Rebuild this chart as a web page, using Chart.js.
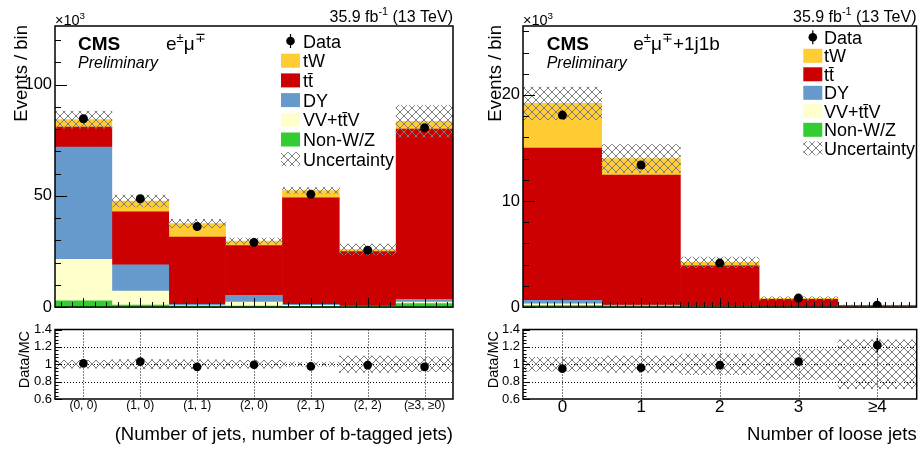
<!DOCTYPE html>
<html><head><meta charset="utf-8">
<script src="https://cdn.jsdelivr.net/npm/chart.js@4.4.1/dist/chart.umd.min.js"></script>
<style>
html,body{margin:0;padding:0;background:#fff;}
#wrap{position:relative;width:921px;height:450px;overflow:hidden;background:#fff;}
canvas{position:absolute;}
</style></head><body>
<div id="wrap">
<canvas id="lm" width="460" height="320" style="left:0;top:0;width:460px;height:320px"></canvas>
<canvas id="lr" width="460" height="130" style="left:0;top:320px;width:460px;height:130px"></canvas>
<canvas id="rm" width="461" height="320" style="left:460px;top:0;width:461px;height:320px"></canvas>
<canvas id="rr" width="461" height="130" style="left:460px;top:320px;width:461px;height:130px"></canvas>
</div>
<script>
// ---------- data (events in units of 10^3) ----------
// Left panel: e±μ∓, (number of jets, number of b-tagged jets)
const binsA     = ['(0, 0)','(1, 0)','(1, 1)','(2, 0)','(2, 1)','(2, 2)','(≥3, ≥0)'];
const nonwzA    = [2.8, 0.9, 0.5, 0.5, 0.4, 0.2, 1.6];
const vvA       = [18.7, 6.3, 0.2, 1.8, 0.4, 0.1, 0.7];
const dyA       = [50.5, 11.8, 0.5, 3.0, 0.4, 0.2, 1.2];
const ttA       = [9.0, 23.8, 30.3, 22.4, 47.9, 24.5, 76.5];
const twA       = [3.3, 4.9, 6.1, 2.0, 3.3, 0.9, 3.5];
const dataA     = [84.7, 48.7, 36.2, 29.1, 50.7, 25.6, 80.6];
const uncA      = [0.045, 0.055, 0.05, 0.045, 0.025, 0.095, 0.085];
const ratioA    = [1.01, 1.03, 0.97, 0.995, 0.975, 0.99, 0.97];
const ratioErrA = [0.004, 0.005, 0.006, 0.006, 0.005, 0.007, 0.004];
const yTicksA   = [0, 50, 100];

// Right panel: e±μ∓+1j1b, number of loose jets
const binsB     = ['0','1','2','3','≥4'];
const nonwzB    = [0.15, 0.05, 0.02, 0.005, 0.001];
const vvB       = [0.15, 0.05, 0.02, 0.005, 0.001];
const dyB       = [0.35, 0.10, 0.04, 0.01, 0.002];
const ttB       = [14.35, 12.25, 3.82, 0.72, 0.128];
const twB       = [4.2, 1.55, 0.32, 0.08, 0.015];
const dataB     = [18.1, 13.4, 4.15, 0.85, 0.18];
const uncB      = [0.08, 0.095, 0.12, 0.175, 0.28];
const ratioB    = [0.95, 0.96, 0.99, 1.03, 1.22];
const ratioErrB = [0.006, 0.008, 0.015, 0.035, 0.085];
const yTicksB   = [0, 10, 20];

const ratioTicks      = [0.6, 0.8, 1, 1.2, 1.4];
const ratioTickLabels = ['0.6', '0.8', '1', '1.2', '1.4'];
const legendLabels = ['Data', 'tW', 't\u0074\u0304', 'DY', 'VV+t\u0074\u0304V', 'Non-W/Z', 'Uncertainty'];

// ---------- style ----------
const SANS = "'Liberation Sans', Arial, Helvetica, sans-serif";
const COL = {tw:'#ffcc33', tt:'#cc0000', dy:'#6699cc', vv:'#ffffcc', nonwz:'#33cc33'};
const legendColors = [null, COL.tw, COL.tt, COL.dy, COL.vv, COL.nonwz, null];

function makeHatch(ctx){
  const c = document.createElement('canvas'); c.width = 8; c.height = 8;
  const g = c.getContext('2d');
  g.strokeStyle = '#7c7c7c'; g.lineWidth = 1;
  g.beginPath(); g.moveTo(-1,-1); g.lineTo(9,9); g.moveTo(9,-1); g.lineTo(-1,9); g.stroke();
  return ctx.createPattern(c, 'repeat');
}

function rich(ctx, parts, x, y, size, align, style){
  style = style || '';
  let w = 0;
  const m = parts.map(([t, sup]) => {
    const s = sup ? size*0.68 : size;
    ctx.font = style + s + 'px ' + SANS;
    const wd = ctx.measureText(t).width; w += wd;
    return {t, sup, s, wd};
  });
  let cx = align === 'right' ? x - w : x;
  ctx.textAlign = 'left';
  m.forEach(p => { ctx.font = style + p.s + 'px ' + SANS; ctx.fillText(p.t, cx, p.sup ? y - size*0.42 : y); cx += p.wd; });
}

function buildMain(id, P){
  const cv = document.getElementById(id);
  const ctx = cv.getContext('2d');
  const hatch = makeHatch(ctx);
  const total = P.comps[0].data.map((_, i) => P.comps.reduce((s, c) => s + c.data[i], 0));
  const uncBars = total.map((t, i) => [t*(1 - P.unc[i]), t*(1 + P.unc[i])]);
  const datasets = P.comps.map(c => ({type:'bar', label:c.label, data:c.data, backgroundColor:c.color,
    borderWidth:0, barPercentage:1, categoryPercentage:1, grouped:false, order:2}));
  datasets.push({type:'bar', label:'Uncertainty', data:uncBars, backgroundColor:hatch, borderWidth:0,
    barPercentage:1, categoryPercentage:1, grouped:false, xAxisID:'xu', yAxisID:'yu', order:1});
  datasets.push({type:'line', label:'Data', data:P.data, xAxisID:'xu', yAxisID:'yu', showLine:false,
    pointRadius:4.5, pointHoverRadius:4.5, pointBackgroundColor:'#000', pointBorderWidth:0, order:0});

  const deco = {
    id:'decoMain',
    afterDatasetsDraw(chart){
      const {ctx, chartArea:a, scales:{x, y}} = chart;
      ctx.save();
      ctx.strokeStyle = '#000'; ctx.lineWidth = 1;
      ctx.beginPath();
      const nMinY = Math.floor(P.yMax / P.yMinor + 1e-9);
      for (let j = 0; j <= nMinY; j++){
        const v = j * P.yMinor;
        const maj = Math.abs(v / P.yMajor - Math.round(v / P.yMajor)) < 1e-6;
        const py = Math.round(y.getPixelForValue(v)) + 0.5;
        ctx.moveTo(a.left, py); ctx.lineTo(a.left + (maj ? 12 : 6), py);
      }
      const n = P.labels.length;
      for (let i = 0; i < n; i++){
        for (let k = -P.xMinorN; k <= P.xMinorN; k++){
          const v = i + k * P.xMinor;
          if (v <= -0.5 + 1e-6 || v >= n - 0.5 - 1e-6) continue;
          const px = Math.round(x.getPixelForValue(v)) + 0.5;
          ctx.moveTo(px, a.bottom); ctx.lineTo(px, a.bottom - (k === 0 ? 9 : 5));
        }
      }
      ctx.stroke();
      ctx.lineWidth = 1.5;
      ctx.strokeRect(a.left, a.top, a.right - a.left, a.bottom - a.top);
      ctx.restore();
    },
    afterDraw(chart){
      const {ctx, chartArea:a} = chart;
      ctx.save();
      ctx.fillStyle = '#000'; ctx.textBaseline = 'alphabetic';
      rich(ctx, [['×10'], ['3', 1]], a.left, 25, 14.5, 'left');
      rich(ctx, [['35.9 fb'], ['-1', 1], [' (13 TeV)']], a.right, 22, 16, 'right');
      ctx.textAlign = 'left';
      ctx.font = 'bold 19px ' + SANS; ctx.fillText('CMS', P.cmsX, 50);
      ctx.font = 'italic 16px ' + SANS; ctx.fillText('Preliminary', P.cmsX, 68);
      rich(ctx, P.chan, P.chanX, 50, 19, 'left');
      // y title
      ctx.save(); ctx.translate(P.ytX, a.top - 1); ctx.rotate(-Math.PI/2);
      ctx.textAlign = 'right'; ctx.font = '18.5px ' + SANS; ctx.fillText('Events / bin', 0, 0);
      ctx.restore();
      // legend
      const L = P.legend;
      legendLabels.forEach((lab, i) => {
        const cy = L.y0 + i * L.step;
        if (i === 0){
          ctx.beginPath(); ctx.arc(L.boxX + 9.5, cy, 4.3, 0, Math.PI*2); ctx.fill();
          ctx.beginPath(); ctx.lineWidth = 1.2; ctx.strokeStyle = '#000';
          ctx.moveTo(L.boxX + 9.5, cy - 7); ctx.lineTo(L.boxX + 9.5, cy + 7); ctx.stroke();
        } else if (legendColors[i] === null){
          ctx.fillStyle = hatch; ctx.fillRect(L.boxX, cy - 7, 19, 14); ctx.fillStyle = '#000';
        } else {
          ctx.fillStyle = legendColors[i]; ctx.fillRect(L.boxX, cy - 7, 19, 14); ctx.fillStyle = '#000';
        }
        ctx.textAlign = 'left'; ctx.font = '18px ' + SANS;
        ctx.fillText(lab, L.textX, cy + 6.5);
      });
      ctx.restore();
    }
  };

  return new Chart(ctx, {
    type:'bar',
    data:{labels:P.labels, datasets},
    options:{
      responsive:false, animation:false, events:[], devicePixelRatio:1,
      layout:{padding:{left:0, right:P.padRight, top:26, bottom:8}},
      plugins:{legend:{display:false}, tooltip:{enabled:false}},
      scales:{
        x:{type:'category', stacked:true, offset:true, display:false},
        xu:{type:'category', offset:true, display:false},
        y:{type:'linear', stacked:true, min:0, max:P.yMax,
           afterFit:s => { s.width = P.axisW; },
           afterBuildTicks:s => { s.ticks = P.yTicks.map(v => ({value:v})); },
           grid:{display:false, drawTicks:false}, border:{display:false},
           ticks:{font:{family:SANS, size:16.5}, color:'#000', padding:3, autoSkip:false, callback:(v) => String(v)}},
        yu:{type:'linear', min:0, max:P.yMax, display:false}
      }
    },
    plugins:[deco]
  });
}

function buildRatio(id, P){
  const cv = document.getElementById(id);
  const ctx = cv.getContext('2d');
  const hatch = makeHatch(ctx);
  const deco = {
    id:'decoRatio',
    beforeDatasetsDraw(chart){
      const {ctx, chartArea:a, scales:{x, y}} = chart;
      ctx.save(); ctx.strokeStyle = '#000'; ctx.lineWidth = 1; ctx.setLineDash([1, 2]);
      ctx.beginPath();
      [0.8, 1, 1.2].forEach(v => { const py = Math.round(y.getPixelForValue(v)) + 0.5; ctx.moveTo(a.left, py); ctx.lineTo(a.right, py); });
      P.labels.forEach((_, i) => { const px = Math.round(x.getPixelForValue(i)) + 0.5; ctx.moveTo(px, a.top); ctx.lineTo(px, a.bottom); });
      ctx.stroke(); ctx.restore();
    },
    afterDatasetsDraw(chart){
      const {ctx, chartArea:a, scales:{x, y}} = chart;
      ctx.save(); ctx.strokeStyle = '#000';
      ctx.lineWidth = 1.5; ctx.beginPath();
      P.ratio.forEach((r, i) => {
        const px = x.getPixelForValue(i);
        ctx.moveTo(px, y.getPixelForValue(r - P.err[i])); ctx.lineTo(px, y.getPixelForValue(r + P.err[i]));
      });
      ctx.stroke();
      ctx.lineWidth = 1; ctx.beginPath();
      for (let j = 0; j <= 20; j++){
        const v = 0.6 + j * 0.04;
        const maj = j % 5 === 0;
        const py = Math.round(y.getPixelForValue(v)) + 0.5;
        ctx.moveTo(a.left, py); ctx.lineTo(a.left + (maj ? 7 : 3.5), py);
      }
      ctx.stroke();
      ctx.lineWidth = 1.5;
      ctx.strokeRect(a.left, a.top, a.right - a.left, a.bottom - a.top);
      ctx.restore();
    },
    afterDraw(chart){
      const {ctx, chartArea:a} = chart;
      ctx.save(); ctx.fillStyle = '#000'; ctx.textBaseline = 'alphabetic';
      ctx.save(); ctx.translate(P.rtX, 11); ctx.rotate(-Math.PI/2);
      ctx.textAlign = 'right'; ctx.font = '14.5px ' + SANS; ctx.fillText('Data/MC', 0, 0);
      ctx.restore();
      ctx.textAlign = 'right'; ctx.font = '18.5px ' + SANS;
      ctx.fillText(P.xTitle, a.right, 120);
      ctx.restore();
    }
  };
  return new Chart(ctx, {
    type:'bar',
    data:{labels:P.labels, datasets:[
      {type:'bar', label:'Uncertainty', data:P.unc.map(u => [1 - u, 1 + u]), backgroundColor:hatch,
       borderWidth:0, barPercentage:1, categoryPercentage:1, grouped:false, order:1},
      {type:'line', label:'Data/MC', data:P.ratio, showLine:false, pointRadius:4.3, pointHoverRadius:4.3,
       pointBackgroundColor:'#000', pointBorderWidth:0, order:0}
    ]},
    options:{
      responsive:false, animation:false, events:[], devicePixelRatio:1,
      layout:{padding:{left:0, right:P.padRight, top:9, bottom:0}},
      plugins:{legend:{display:false}, tooltip:{enabled:false}},
      scales:{
        x:{type:'category', offset:true, afterFit:s => { s.height = 51; },
           grid:{display:false, drawTicks:false}, border:{display:false},
           ticks:{font:{family:SANS, size:P.xFont, lineHeight:1}, color:'#000', padding:P.xPad, maxRotation:0, autoSkip:false}},
        y:{type:'linear', min:0.6, max:1.4,
           afterFit:s => { s.width = P.axisW; },
           afterBuildTicks:s => { s.ticks = ratioTicks.map(v => ({value:v})); },
           grid:{display:false, drawTicks:false}, border:{display:false},
           ticks:{font:{family:SANS, size:13, lineHeight:1}, color:'#000', padding:3, autoSkip:false,
                  callback:(v, i) => ratioTickLabels[i]}}
      }
    },
    plugins:[deco]
  });
}

buildMain('lm', {
  labels:binsA, yMax:126.4, yTicks:yTicksA, yMajor:50, yMinor:10, xMinor:0.2, xMinorN:2,
  axisW:55, padRight:7, unc:uncA, data:dataA,
  comps:[{label:'Non-W/Z', data:nonwzA, color:COL.nonwz}, {label:'VV+ttV', data:vvA, color:COL.vv},
         {label:'DY', data:dyA, color:COL.dy}, {label:'tt', data:ttA, color:COL.tt}, {label:'tW', data:twA, color:COL.tw}],
  cmsX:78, chanX:166, chan:[['e'], ['±', 1], ['μ'], ['∓', 1]], ytX:26.5,
  legend:{boxX:281, textX:303, y0:41, step:19.7}
});
buildRatio('lr', {labels:binsA, unc:uncA, ratio:ratioA, err:ratioErrA, axisW:55, padRight:7,
  xFont:12, xPad:1, rtX:29, xTitle:'(Number of jets, number of b-tagged jets)'});

buildMain('rm', {
  labels:binsB, yMax:26.5, yTicks:yTicksB, yMajor:10, yMinor:2, xMinor:0.1, xMinorN:5,
  axisW:63, padRight:1, unc:uncB, data:dataB,
  comps:[{label:'Non-W/Z', data:nonwzB, color:COL.nonwz}, {label:'VV+ttV', data:vvB, color:COL.vv},
         {label:'DY', data:dyB, color:COL.dy}, {label:'tt', data:ttB, color:COL.tt}, {label:'tW', data:twB, color:COL.tw}],
  cmsX:86.7, chanX:173.3, chan:[['e'], ['±', 1], ['μ'], ['∓', 1], ['+1j1b']], ytX:40.7,
  legend:{boxX:343.3, textX:364, y0:37.3, step:18.5}
});
buildRatio('rr', {labels:binsB, unc:uncB, ratio:ratioB, err:ratioErrB, axisW:63, padRight:1,
  xFont:17, xPad:0, rtX:37.5, xTitle:'Number of loose jets'});
</script>
</body></html>
